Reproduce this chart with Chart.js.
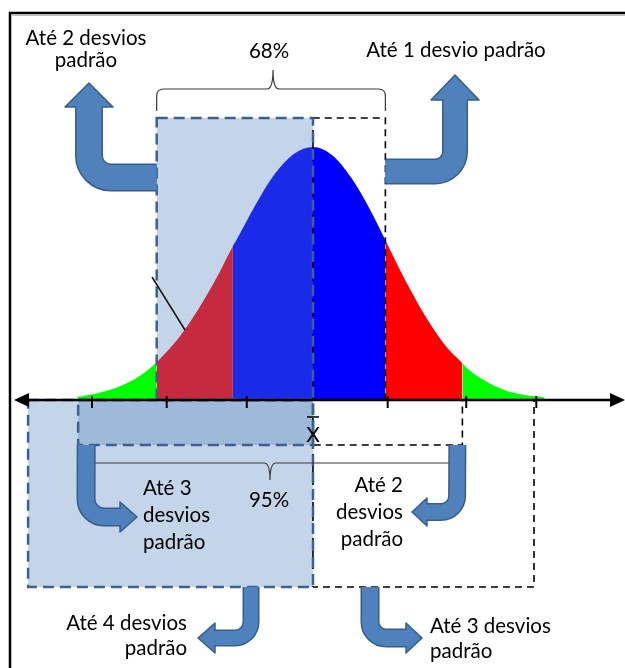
<!DOCTYPE html>
<html>
<head>
<meta charset="utf-8">
<script src="https://cdn.jsdelivr.net/npm/chart.js@4/dist/chart.umd.min.js"></script>
<style>
  html, body { margin: 0; padding: 0; background: #fff; }
  canvas { display: block; }
</style>
</head>
<body>
<canvas id="c" width="625" height="668"></canvas>
<script>
// Normal curve: distance from the mean (in standard deviations) and curve height
const sigma = [-3.06, -3.0, -2.75, -2.5, -2.25, -2.03, -2.0, -1.75, -1.5, -1.25, -1.04, -1.0, -0.75, -0.5, -0.25,
               0, 0.25, 0.5, 0.75, 0.94, 1.0, 1.25, 1.5, 1.75, 1.94, 2.0, 2.25, 2.5, 2.75, 3.0, 3.01];
const density = [0.005, 0.006, 0.012, 0.022, 0.038, 0.059, 0.063, 0.097, 0.141, 0.193, 0.243, 0.251, 0.307, 0.356, 0.388,
                 0.399, 0.386, 0.350, 0.298, 0.252, 0.237, 0.177, 0.124, 0.081, 0.058, 0.050, 0.029, 0.015, 0.008, 0.004, 0.0036];

// Coloured bands under the curve (edges in standard deviations)
const bandEdges = [-2.03, -1.04, 0.94, 1.94];
const bandColors = ['#00ff00', '#ff0000', '#0000ff', '#ff0000', '#00ff00'];

// Tick marks on the horizontal axis
const tickSigmas = [-2.87, -1.9, -0.86, 0.97, 1.99, 2.9];

// Boxes grouping the ranges: [from σ, to σ]
const boxUpperLeft = [-2.03, 0];
const boxUpperRight = [0, 0.94];
const boxLowerLeft = [-3.7, 0];
const boxLowerBand = [-3.05, 0];
const boxLowerRightSmall = [0, 1.94];
const boxLowerRightBig = [0, 2.87];

// Text
const pct68 = '68%';
const pct95 = '95%';
const meanLabel = 'X';
const labelUpLeft = ['Até 2 desvios', 'padrão'];
const labelUpRight = ['Até 1 desvio padrão'];
const labelMidLeft = ['Até 3', 'desvios', 'padrão'];
const labelMidRight = ['Até 2', 'desvios', 'padrão'];
const labelLowLeft = ['Até 4 desvios', 'padrão'];
const labelLowRight = ['Até 3 desvios', 'padrão'];

const FONT = 'Lato, "Open Sans", sans-serif';
const SHADE = 'rgba(79,129,189,0.33)';
const SHADE_EDGE = '#3d618f';
const ARROW_FILL = '#4f81bd';
const ARROW_EDGE = '#385d8a';

function bandColor(x) {
  let i = 0;
  while (i < bandEdges.length && x > bandEdges[i]) i++;
  return bandColors[i];
}

function bentArrow(ctx, s, c, t, w, headLen, headHalf, r) {
  const dx = Math.sign(t[0] - c[0]), dy = Math.sign(t[1] - c[1]);
  const base = [t[0] - dx * headLen, t[1] - dy * headLen];
  const shaft = () => {
    ctx.beginPath();
    ctx.moveTo(s[0], s[1]);
    ctx.arcTo(c[0], c[1], base[0], base[1], r);
    ctx.lineTo(base[0] + dx, base[1] + dy);
  };
  ctx.save();
  ctx.setLineDash([]);
  ctx.lineCap = 'butt';
  ctx.lineJoin = 'round';
  ctx.strokeStyle = ARROW_EDGE;
  ctx.lineWidth = w + 3;
  shaft(); ctx.stroke();
  const px = -dy, py = dx;
  ctx.beginPath();
  ctx.moveTo(t[0], t[1]);
  ctx.lineTo(base[0] + px * headHalf, base[1] + py * headHalf);
  ctx.lineTo(base[0] - px * headHalf, base[1] - py * headHalf);
  ctx.closePath();
  ctx.fillStyle = ARROW_FILL;
  ctx.fill();
  ctx.lineWidth = 1.5;
  ctx.strokeStyle = ARROW_EDGE;
  ctx.stroke();
  ctx.strokeStyle = ARROW_FILL;
  ctx.lineWidth = w;
  shaft(); ctx.stroke();
  ctx.restore();
}

function lines(ctx, arr, x, y, gap, align) {
  ctx.textAlign = align;
  arr.forEach((s, i) => ctx.fillText(s, x, y + i * gap));
}

const diagram = {
  id: 'diagram',
  afterDatasetsDraw(chart) {
    const ctx = chart.ctx;
    const xs = chart.scales.x, ys = chart.scales.y;
    const X = v => xs.getPixelForValue(v);
    const cx = X(0);
    const y0 = ys.getPixelForValue(0);
    const P = (dx, dy) => [cx + dx, y0 + dy];

    const upTop = y0 - 282, lowBand = y0 + 45, lowBottom = y0 + 187;

    ctx.save();

    // shaded boxes
    ctx.fillStyle = SHADE;
    ctx.fillRect(X(boxUpperLeft[0]), upTop, X(boxUpperLeft[1]) - X(boxUpperLeft[0]), y0 - upTop);
    ctx.fillRect(X(boxLowerLeft[0]), y0, X(boxLowerLeft[1]) - X(boxLowerLeft[0]), lowBottom - y0);
    ctx.fillRect(X(boxLowerBand[0]), y0, X(boxLowerBand[1]) - X(boxLowerBand[0]), lowBand - y0);

    // black dashed boxes
    ctx.strokeStyle = '#000';
    ctx.lineWidth = 1.6;
    ctx.setLineDash([7, 5]);
    const blackBox = (b, y1, y2) => {
      ctx.beginPath();
      ctx.moveTo(X(b[0]), y1);
      ctx.lineTo(X(b[1]), y1);
      ctx.lineTo(X(b[1]), y2);
      ctx.lineTo(X(b[0]), y2);
      ctx.stroke();
    };
    blackBox(boxUpperRight, y0, upTop);
    blackBox(boxLowerRightSmall, y0, lowBand);
    blackBox(boxLowerRightBig, y0, lowBottom);
    ctx.beginPath();
    ctx.moveTo(cx, upTop); ctx.lineTo(cx, lowBottom);
    ctx.stroke();

    // blue dashed outlines of the shaded boxes
    ctx.strokeStyle = SHADE_EDGE;
    ctx.lineWidth = 2.5;
    ctx.setLineDash([11, 6]);
    const blueBox = (b, y1, y2) => {
      ctx.strokeRect(X(b[0]), y1, X(b[1]) - X(b[0]), y2 - y1);
    };
    blueBox(boxUpperLeft, upTop, y0);
    blueBox(boxLowerLeft, y0, lowBottom);
    blueBox(boxLowerBand, y0, lowBand);
    ctx.setLineDash([]);

    // horizontal axis with arrowheads
    ctx.strokeStyle = '#000';
    ctx.fillStyle = '#000';
    ctx.lineWidth = 2.5;
    ctx.beginPath();
    ctx.moveTo(24, y0); ctx.lineTo(chart.width - 10, y0);
    ctx.stroke();
    ctx.beginPath();
    ctx.moveTo(14, y0); ctx.lineTo(29, y0 - 7); ctx.lineTo(29, y0 + 7); ctx.closePath(); ctx.fill();
    ctx.beginPath();
    ctx.moveTo(chart.width, y0); ctx.lineTo(chart.width - 15, y0 - 7); ctx.lineTo(chart.width - 15, y0 + 7); ctx.closePath(); ctx.fill();
    ctx.lineWidth = 2;
    tickSigmas.forEach(t => {
      ctx.beginPath();
      ctx.moveTo(X(t), y0 - 4); ctx.lineTo(X(t), y0 + 8);
      ctx.stroke();
    });

    // braces
    ctx.strokeStyle = '#3a3a3a';
    ctx.lineWidth = 1.2;
    {
      const l = X(boxUpperLeft[0]), r = X(boxUpperRight[1]), m = cx - 40, y = y0 - 311;
      ctx.beginPath();
      ctx.moveTo(l, y + 22); ctx.lineTo(l, y + 7);
      ctx.quadraticCurveTo(l, y, l + 7, y);
      ctx.lineTo(m - 6, y);
      ctx.quadraticCurveTo(m, y, m, y - 19);
      ctx.quadraticCurveTo(m, y, m + 6, y);
      ctx.lineTo(r - 7, y);
      ctx.quadraticCurveTo(r, y, r, y + 7);
      ctx.lineTo(r, y + 22);
      ctx.stroke();
    }
    {
      const l = X(boxLowerBand[0]), r = cx + 137, m = cx - 43, y = y0 + 63;
      ctx.beginPath();
      ctx.moveTo(l, y - 17); ctx.lineTo(l, y - 6);
      ctx.quadraticCurveTo(l, y, l + 6, y);
      ctx.lineTo(m - 6, y);
      ctx.quadraticCurveTo(m, y, m, y + 17);
      ctx.quadraticCurveTo(m, y, m + 6, y);
      ctx.lineTo(r, y);
      ctx.stroke();
    }

    // leader line
    ctx.strokeStyle = '#1a1a1a';
    ctx.lineWidth = 1.6;
    ctx.beginPath();
    ctx.moveTo(cx - 161, y0 - 123); ctx.lineTo(cx - 128, y0 - 70);
    ctx.stroke();

    // arrows
    bentArrow(ctx, [X(boxUpperLeft[0]), y0 - 222.5], P(-224, -222.5), P(-224, -317), 25, 24, 24, 22);
    bentArrow(ctx, [X(boxUpperRight[1]), y0 - 228.5], P(142, -228.5), P(142, -325), 23, 25, 24, 20);
    bentArrow(ctx, [X(boxLowerBand[0]) + 8, lowBand], P(-227, 117), P(-176, 117), 16, 17, 15, 18);
    bentArrow(ctx, [X(boxLowerRightSmall[1]) - 5, lowBand], P(144, 112), P(99, 112), 15, 15, 14, 16);
    bentArrow(ctx, [cx - 62, lowBottom], P(-62, 238), P(-115, 238), 14, 17, 15, 16);
    bentArrow(ctx, [cx + 57, lowBottom], P(57, 238), P(109, 238), 16, 16, 15, 16);

    // text
    ctx.fillStyle = '#000';
    ctx.font = '20.5px ' + FONT;
    ctx.textBaseline = 'alphabetic';
    lines(ctx, labelUpLeft, cx - 227, y0 - 355, 22, 'center');
    lines(ctx, [pct68], cx - 44, y0 - 342, 0, 'center');
    lines(ctx, labelUpRight, cx + 143, y0 - 343, 0, 'center');
    lines(ctx, labelMidLeft, cx - 170, y0 + 95, 27, 'left');
    lines(ctx, [pct95], cx - 44, y0 + 107, 0, 'center');
    lines(ctx, labelMidRight, cx + 90, y0 + 92, 27, 'right');
    lines(ctx, labelLowLeft, cx - 126, y0 + 230, 25, 'right');
    lines(ctx, labelLowRight, cx + 117, y0 + 233, 25, 'left');

    // mean symbol (x with overline)
    ctx.font = '21px ' + FONT;
    ctx.textAlign = 'center';
    ctx.fillText(meanLabel, cx, y0 + 42);
    ctx.lineWidth = 1.5;
    ctx.strokeStyle = '#000';
    ctx.beginPath();
    ctx.moveTo(cx - 6, y0 + 17); ctx.lineTo(cx + 6, y0 + 17);
    ctx.stroke();

    // frame
    ctx.strokeStyle = '#000';
    ctx.lineWidth = 2.5;
    ctx.beginPath();
    ctx.moveTo(10, chart.height); ctx.lineTo(10, 13); ctx.lineTo(chart.width, 13);
    ctx.stroke();
    ctx.strokeStyle = '#bbb';
    ctx.lineWidth = 1;
    ctx.beginPath();
    ctx.moveTo(12.5, 15.5); ctx.lineTo(chart.width, 15.5);
    ctx.stroke();

    ctx.restore();
  }
};

new Chart(document.getElementById('c'), {
  type: 'line',
  data: {
    datasets: [{
      label: 'Distribuição normal',
      data: sigma.map((s, i) => ({ x: s, y: density[i] })),
      parsing: false,
      borderWidth: 0,
      borderColor: 'rgba(0,0,0,0)',
      backgroundColor: '#0000ff',
      pointRadius: 0,
      fill: 'origin',
      cubicInterpolationMode: 'monotone',
      segment: {
        backgroundColor: c => bandColor((c.p0.parsed.x + c.p1.parsed.x) / 2)
      }
    }]
  },
  options: {
    responsive: false,
    animation: false,
    layout: { padding: 0 },
    plugins: { legend: { display: false }, tooltip: { enabled: false } },
    scales: {
      x: { type: 'linear', min: -4.065, max: 4.052, display: false },
      y: { type: 'linear', min: -0.4227, max: 0.6308, display: false }
    }
  },
  plugins: [diagram]
});
</script>
</body>
</html>
